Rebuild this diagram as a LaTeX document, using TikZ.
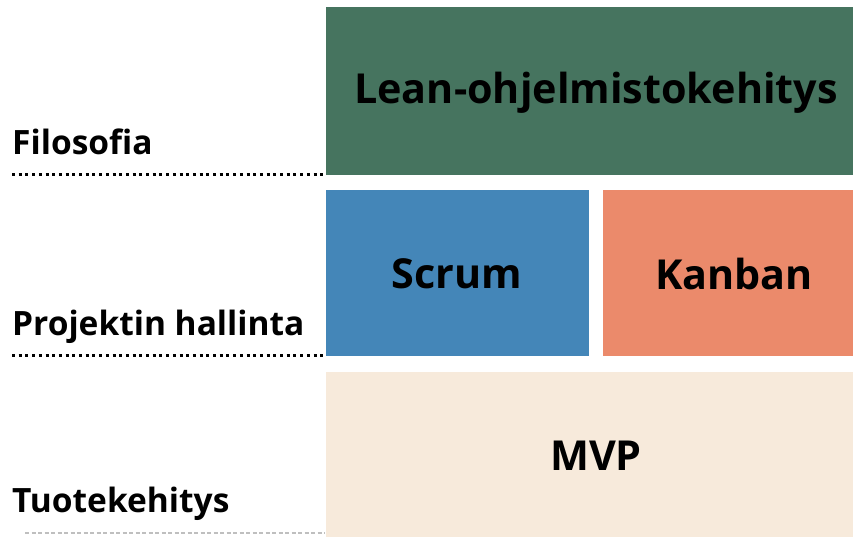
\documentclass[tikz,border=0pt]{standalone}
\usepackage{fontspec}
\setmainfont{Open Sans}[BoldFont={Open Sans Bold}]
\definecolor{leangreen}{HTML}{46745F}
\definecolor{scrumblue}{HTML}{4486B8}
\definecolor{kanbanorange}{HTML}{EB8A6B}
\definecolor{mvpbeige}{HTML}{F7EADB}
\begin{document}
\begin{tikzpicture}[x=1pt,y=-1pt,
  boxtext/.style={font=\fontsize{41.3}{41.3}\selectfont\bfseries,text=black},
  sidelabel/.style={font=\fontsize{33.5}{33.5}\selectfont\bfseries,anchor=base west,inner sep=0pt},
  dotline/.style={line width=3pt,dash pattern=on 3pt off 3.7pt,black},
  greyline/.style={line width=1.2pt,dash pattern=on 4pt off 2.5pt,black!25}]
\useasboundingbox (0,0) rectangle (853,537);
\fill[leangreen] (326,7) rectangle (853,175);
\fill[scrumblue] (326,190) rectangle (589,356);
\fill[kanbanorange] (603,190) rectangle (853,356);
\fill[mvpbeige] (326,372) rectangle (853,537);
\node[boxtext] (lean) at (596,93) {Lean-ohjelmistokehitys};
\node[boxtext] (scrum) at (457,274) {Scrum};
\node[boxtext] (kanban) at (734,274) {Kanban};
\node[boxtext] (mvp) at (596,456) {MVP};
\node[sidelabel] (filo) at (12,155) {Filosofia};
\node[sidelabel] (proj) at (12,335) {Projektin hallinta};
\node[sidelabel] (tuote) at (12,512) {Tuotekehitys};
\coordinate (d1a) at (12,175); \coordinate (d1b) at (325,175);
\coordinate (d2a) at (12,355); \coordinate (d2b) at (325,355);
\coordinate (d3a) at (25,533); \coordinate (d3b) at (325,533);
\draw[dotline] (d1a) -- (d1b);
\draw[dotline] (d2a) -- (d2b);
\draw[greyline] (d3a) -- (d3b);
\end{tikzpicture}
\end{document}
